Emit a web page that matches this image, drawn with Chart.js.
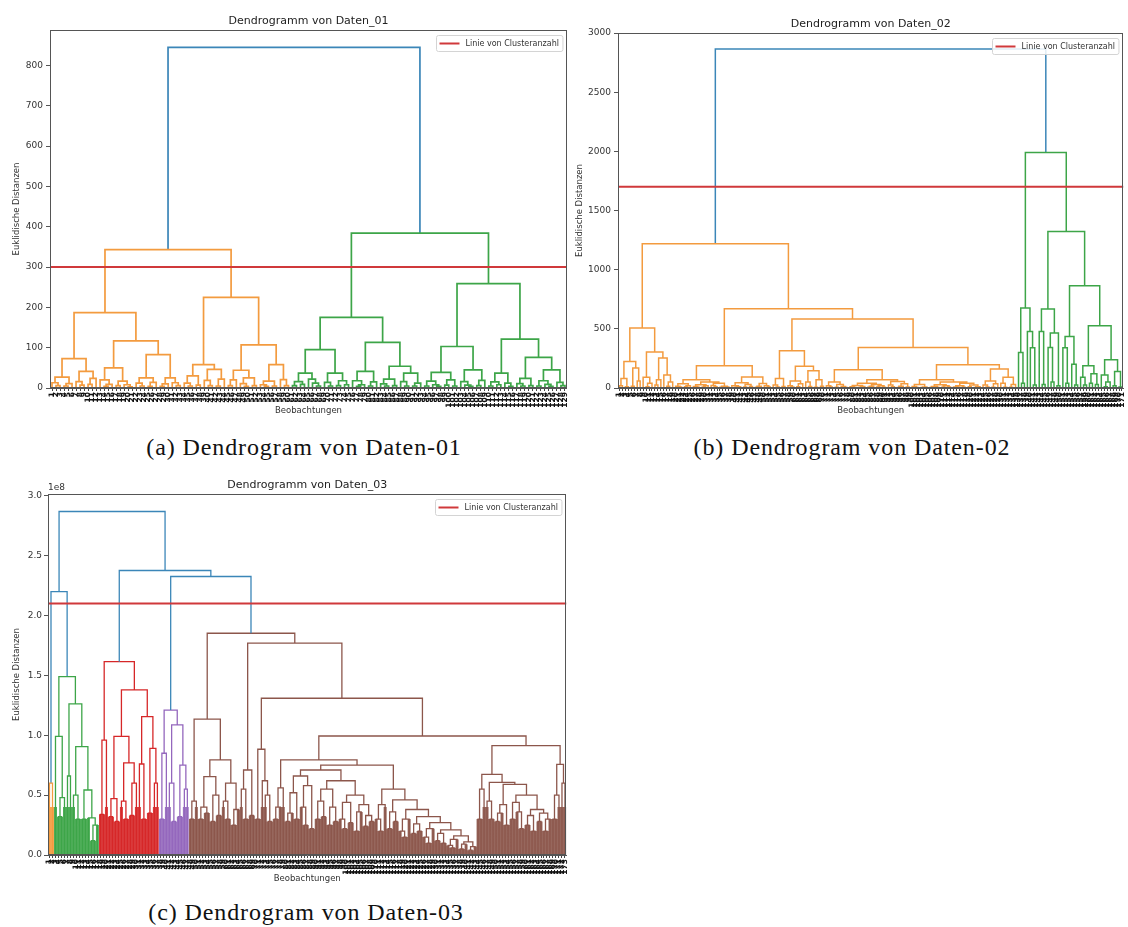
<!DOCTYPE html>
<html>
<head>
<meta charset="utf-8">
<script src="https://cdn.jsdelivr.net/npm/chart.js@4.4.1/dist/chart.umd.min.js"></script>
<style>
  body { margin: 0; background: #fff; width: 1128px; height: 927px; position: relative; overflow: hidden; }
  canvas { position: absolute; }
  .cap { position: absolute; font-family: "Liberation Serif", "DejaVu Serif", serif; font-size: 24px; line-height: 26px;
         letter-spacing: 0.9px; color: #111; white-space: nowrap; transform: translateX(-50%); }
</style>
</head>
<body>
<canvas id="chart1" width="575" height="425" style="left:0;top:0"></canvas>
<canvas id="chart2" width="557" height="425" style="left:575px;top:0"></canvas>
<canvas id="chart3" width="575" height="430" style="left:0;top:460px"></canvas>
<div class="cap" style="left:304px;top:434px">(a) Dendrogram von Daten-01</div>
<div class="cap" style="left:852px;top:434px">(b) Dendrogram von Daten-02</div>
<div class="cap" style="left:306px;top:899px">(c) Dendrogram von Daten-03</div>
<script>
// Baumschreibweise: [Höhe, links, rechts]; 0 = ein Blatt; Zahl > 0 = zwei Blätter, die auf dieser Höhe verschmelzen

// Daten_01
const d1Top = 845;
const d1Orange = [343,
  [187,
    [73, [27, [13, 0, 6], [11, 5, 0]], [41, [16, 0, 7], [24, 9, 0]]],
    [117, [50, [20, 0, [9, 4, 0]], [17, 6, [8, 0, 3]]],
          [83, [25, [12, 0, 5], [14, 4, 0]], [25, [10, 4, 0], [13, 0, 6]]]]],
  [225,
    [58, [30, [12, 0, 5], 7], [46, [19, 0, 6], [22, 5, 0]]],
    [107, [44, [20, 6, 0], [25, [11, 0, 4], 6]], [58, [17, [8, 0, 4], 5], [21, 0, 6]]]]];
const d1Green = [384,
  [175,
    [95, [37, [16, 6, [9, 0, 0]], [22, 0, [12, 0, 5]]], [37, [14, 0, 5], [18, 6, [8, 0, 0]]]],
    [113, [41, [18, 0, [8, 4, 0]], [15, 5, 0]],
          [54, [22, [10, 0, 5], 6], [37, [16, 0, 5], [12, 5, 0]]]]],
  [259,
    [103, [39, [17, 5, [8, 0, 4]], [20, [7, 0, 0], 5]], [45, [16, 0, [7, 0, 4]], [19, 6, 0]]],
    [121, [37, [15, 5, [8, 0, 0]], [12, 0, 4]],
          [76, [24, [11, 0, 5], 6], [45, [18, 5, [9, 0, 4]], [14, 0, 6]]]]]];
const d1Cut = 300;
const d1Ticks = [0, 100, 200, 300, 400, 500, 600, 700, 800];

// Daten_02
const d2Top = 2865;
const d2Orange = [1219,
  [507,
    [225, [80, 20, 10], [169, 15, 60]],
    [304, [90, 0, [40, 10, 0]], [253, [70, 25, 0], [110, 0, [50, 15, 0]]]]],
  [670,
    [188,
      [70, [35, [15, 0, 8], [20, 10, 0]],
           [50, [28, [12, 0, 6], [18, 8, 0]], [40, [22, 0, 10], [15, 6, [9, 0, 0]]]]],
      [93, [45, [20, 0, [10, 5, 0]], [30, 8, 12]], [38, [14, 6, 0], [18, 0, 9]]]],
    [583,
      [315, [80, [25, 0, 8], 12],
            [183, [60, [20, 0, 8], [35, 10, 0]], [145, [50, 0, 12], [70, 6, 15]]]],
      [343,
        [155, [50, [20, 0, 9], [30, 6, [12, 0, 5]]],
              [70, [40, [22, [10, 0, 5], [12, 4, 0]], [30, [14, 6, 0], [18, [9, 0, 0], 7]]],
                   [55, [25, 0, 10], [35, [15, 5, 0], 8]]]],
        [197, [70, [30, [12, 0, 5], [9, 4, 0]],
                   [50, [28, [12, 5, [6, 0, 0]], [18, [7, 0, 0], 8]],
                        [40, [20, [9, 0, 4], 6], [25, [10, 0, 0], [11, 5, 0]]]]],
              [160, [60, [25, 0, 8], [35, 6, 0]], [90, [40, 0, 6], [30, 7, 0]]]]]]]];
const d2Green = [1991,
  [676, [300, 0, 40], [478, 0, [340, 0, 25]]],
  [1323,
    [667, [478, 0, 30], [465, [343, 0, 50], 20]],
    [864,
      [436, [340, 0, 40], [200, 0, 25]],
      [526, [188, [90, 0, 25], [120, [40, 0, 0], 30]], [239, [110, 0, [50, 10, 0]], [140, 20, 8]]]]]];
const d2Cut = 1700;
const d2Ticks = [0, 500, 1000, 1500, 2000, 2500, 3000];

// Daten_03 (Höhen in Einheiten von 1e8)
const d3Links = [2.869, 2.2, 2.376, 2.326];
const d3Orange = 0.6;
const d3Green = [1.49,
  [0.99, 0, [0.48, 0.32, 0]],
  [1.262, 0.66,
    [0.905, [0.5, 0, 0.3], [0.543, 0.3, [0.31, 0, [0.25, 0.12, 0]]]]]];
const d3Red = [1.615,
  [0.96, 0.34, 0],
  [1.379,
    [0.99, [0.47, 0.32, 0.28], [0.77, [0.45, 0, 0.3], [0.6, 0.33, 0]]],
    [1.156, [0.76, 0, 0.3], [0.89, 0.35, [0.6, 0, 0]]]]];
const d3Purple = [1.21,
  [0.85, 0.3, 0],
  [1.086, [0.6, 0, 0.28], [0.75, 0.32, [0.55, 0, 0]]]];
// Treppe am rechten Ende des großen braunen Clusters
const d3Stairs = [0.55, [0.42, [0.3, 0, 0.2], 0],
  [0.46, [0.36, 0.22, [0.28, 0, 0]],
    [0.38, [0.3, [0.2, 0, 0.15], 0],
      [0.32, [0.26, 0.18, 0.2],
        [0.27, [0.22, [0.15, 0, 0.1], 0],
          [0.21, [0.18, 0.12, 0.1],
            [0.16, [0.13, [0.08, 0, 0.06], 0],
              [0.11, [0.09, 0.05, 0], [0.07, 0.04, 0]]]]]]]]];
const d3BrownMid = [0.71,
  [0.66, [0.52, [0.35, 0.28, 0], 0.3], [0.58, [0.4, 0, 0.25], 0.22]],
  [0.62, [0.55, [0.45, 0.3, [0.32, 0, 0]], [0.4, 0.25, 0.28]],
         [0.5, [0.44, [0.3, 0, 0.22], 0.27], [0.42, [0.36, 0.2, 0], [0.33, 0.24, [0.28, 0, 0]]]]]];
const d3BrownRight = [0.914,
  [0.674, [0.55, 0.3, 0],
    [0.607, [0.45, 0, 0.3],
      [0.59, [0.42, [0.35, 0.28, 0], 0.25],
        [0.5, [0.44, 0.3, [0.36, 0, 0.22]],
          [0.38, [0.33, 0.25, 0.2], [0.35, 0.28, [0.3, 0.2, 0]]]]]]],
  [0.757, [0.5, 0.3, 0], 0.6]];
const d3BrownLeft = [1.134,
  [0.45, 0.3, 0],
  [0.794,
    [0.654, [0.4, 0.3, [0.35, 0, 0]], [0.5, 0.28, [0.33, 0, 0]]],
    [0.6, [0.45, 0, 0.3], [0.38, 0.25, 0]]]];
const d3BrownLinks = [1.852, 1.769, 1.309, 0.994, 0.794, 0.75];
const d3Cut = 2.1;
const d3Ticks = [0, 0.5, 1, 1.5, 2, 2.5, 3];

const COLORS = {
  blue: '#3b86b8', orange: '#f39b3f', green: '#3da548', red: '#d62728',
  purple: '#9467bd', brown: '#8c564b', cut: '#d0393b'
};
Chart.defaults.font.family = '"DejaVu Sans", sans-serif';

function cluster(color, tree) { return {color: color, tree: tree}; }

// scipy-artige Anordnung: Blatt i bei x = 10*i + 5, Knoten in der Mitte seiner Kinder
function buildDendro(tree) {
  const segs = {};
  const leaves = [];
  function newLeaf(color) {
    const lf = {x: 10 * leaves.length + 5, h: 0, leaf: true, color: color, parent: 0};
    leaves.push(lf);
    return lf;
  }
  function U(color, l, h, r) {
    if (l.leaf) l.parent = h;
    if (r.leaf) r.parent = h;
    (segs[color] = segs[color] || []).push(
      {x: l.x, y: l.h}, {x: l.x, y: h}, {x: r.x, y: h}, {x: r.x, y: r.h}, {x: r.x, y: null});
  }
  function walk(node, color) {
    if (node && node.tree !== undefined) return walk(node.tree, node.color);
    if (typeof node === 'number') {
      const a = newLeaf(color);
      if (node === 0) return a;
      const b = newLeaf(color);
      U(color, a, node, b);
      return {x: (a.x + b.x) / 2, h: node};
    }
    const l = walk(node[1], color);
    const r = walk(node[2], color);
    U(color, l, node[0], r);
    return {x: (l.x + r.x) / 2, h: node[0]};
  }
  walk(tree, 'blue');
  return {segs: segs, leaves: leaves};
}

// dichte Blattmasse: jede Blattspalte bis zu ihrer ersten Verschmelzung, gekappt
function leafMass(leaves, cap) {
  const mass = {};
  leaves.forEach(lf => {
    const m = Math.min(lf.parent, cap);
    (mass[lf.color] = mass[lf.color] || []).push({x: lf.x - 5, y: m}, {x: lf.x + 5, y: m});
  });
  return mass;
}

const panelDecor = {
  id: 'panelDecor',
  afterDraw(chart, args, o) {
    const {ctx, chartArea: a} = chart;
    ctx.save();
    // Rahmen
    ctx.strokeStyle = '#555';
    ctx.lineWidth = 1;
    ctx.strokeRect(Math.round(a.left) + 0.5, Math.round(a.top) + 0.5,
      Math.round(a.right - a.left) - 1, Math.round(a.bottom - a.top) - 1);
    // Titel
    ctx.fillStyle = '#222';
    ctx.font = '11px "DejaVu Sans"';
    ctx.textAlign = 'center';
    ctx.textBaseline = 'middle';
    ctx.fillText(o.title, (a.left + a.right) / 2, a.top - 9);
    // Faktor der y-Achse
    if (o.offset) {
      ctx.font = '9px "DejaVu Sans"';
      ctx.textAlign = 'left';
      ctx.textBaseline = 'bottom';
      ctx.fillStyle = '#333';
      ctx.fillText(o.offset, a.left, a.top - 2);
    }
    // Legende oben rechts
    const ds = chart.data.datasets.find(d => d.label);
    ctx.font = '8px "DejaVu Sans"';
    const tw = ctx.measureText(ds.label).width;
    const bw = 3 + 20 + 6 + tw + 4, bh = 16;
    const bx = Math.round(a.right - 5 - bw) + 0.5, by = Math.round(a.top + 5) + 0.5;
    ctx.beginPath();
    ctx.roundRect(bx, by, bw, bh, 2);
    ctx.fillStyle = 'rgba(255,255,255,0.85)';
    ctx.fill();
    ctx.strokeStyle = '#d4d4d4';
    ctx.stroke();
    ctx.beginPath();
    ctx.moveTo(bx + 3, by + bh / 2);
    ctx.lineTo(bx + 23, by + bh / 2);
    ctx.strokeStyle = ds.borderColor;
    ctx.lineWidth = 2;
    ctx.stroke();
    ctx.fillStyle = '#333';
    ctx.textAlign = 'left';
    ctx.textBaseline = 'middle';
    ctx.fillText(ds.label, bx + 29, by + bh / 2 + 0.5);
    ctx.restore();
  }
};

function drawPanel(id, p) {
  const built = buildDendro(p.tree);
  const xMax = built.leaves.length * 10;
  const datasets = [];
  Object.keys(built.segs).forEach(c => {
    datasets.push({
      data: built.segs[c], borderColor: COLORS[c], borderWidth: p.lw,
      pointRadius: 0, spanGaps: false, fill: false, order: 2
    });
  });
  if (p.massCap) {
    const mass = leafMass(built.leaves, p.massCap);
    Object.keys(mass).forEach(c => {
      datasets.push({
        data: mass[c], borderWidth: 0, borderColor: 'transparent',
        backgroundColor: COLORS[c] + 'e6', fill: 'origin', pointRadius: 0, order: 3
      });
    });
  }
  datasets.push({
    label: 'Linie von Clusteranzahl',
    data: [{x: 0, y: p.cut}, {x: xMax, y: p.cut}],
    borderColor: COLORS.cut, borderWidth: 2, pointRadius: 0, fill: false, order: 0
  });
  const leafTicks = built.leaves.map(lf => ({value: lf.x}));

  new Chart(document.getElementById(id), {
    type: 'line',
    data: {datasets: datasets},
    plugins: [panelDecor],
    options: {
      responsive: false,
      animation: false,
      events: [],
      layout: {padding: {top: p.top, right: p.right, left: 0, bottom: 0}},
      plugins: {
        legend: {display: false},
        tooltip: {enabled: false},
        panelDecor: {title: p.title, offset: p.offset}
      },
      scales: {
        x: {
          type: 'linear', min: 0, max: xMax,
          afterFit: s => { s.height = p.xH; },
          afterBuildTicks: s => { s.ticks = leafTicks; },
          ticks: {
            autoSkip: false, minRotation: 90, maxRotation: 90, padding: 1,
            font: {size: 7.5, weight: 'bold'}, color: '#111',
            callback: v => String((v - 5) / 10 + 1)
          },
          grid: {drawOnChartArea: false, drawTicks: true, tickLength: 3, color: '#444'},
          border: {display: true, color: '#555'},
          title: {display: true, text: 'Beobachtungen', color: '#333', font: {size: 8.5},
                  padding: {top: 0, bottom: p.xTitlePad}}
        },
        y: {
          type: 'linear', min: 0, max: p.yMax,
          afterFit: s => { s.width = p.yW; },
          afterBuildTicks: s => { s.ticks = p.yTicks.map(v => ({value: v})); },
          ticks: {font: {size: 9}, color: '#333', padding: p.tickPad, callback: p.fmt},
          grid: {drawOnChartArea: false, drawTicks: true, tickLength: 4, color: '#555'},
          border: {display: true, color: '#555'},
          title: {display: true, text: 'Euklidische Distanzen', color: '#333', font: {size: 8.5},
                  padding: {top: p.yTitlePad, bottom: 0}}
        }
      }
    }
  });
}

drawPanel('chart1', {
  tree: [d1Top, cluster('orange', d1Orange), cluster('green', d1Green)],
  cut: d1Cut, yTicks: d1Ticks, yMax: 888, fmt: v => String(v),
  title: 'Dendrogramm von Daten_01', lw: 1.7,
  top: 30, right: 8, yW: 50, xH: 37, xTitlePad: 9, yTitlePad: 12, tickPad: 3
});

drawPanel('chart2', {
  tree: [d2Top, cluster('orange', d2Orange), cluster('green', d2Green)],
  cut: d2Cut, yTicks: d2Ticks, yMax: 3000, fmt: v => String(v),
  title: 'Dendrogramm von Daten_02', lw: 1.5,
  top: 33, right: 5, yW: 43, xH: 37, xTitlePad: 9, yTitlePad: 0, tickPad: 3
});

// brauner Cluster aus seinen Teilstücken zusammengesetzt
const bl = d3BrownLinks;
const d3Brown = [bl[0], d3BrownLeft,
  [bl[1], [0.71, [0.55, 0, 0.3], 0.33],
    [bl[2], [0.883, 0.3, [0.62, 0, [0.5, 0, 0.28]]],
      [bl[3], [bl[4], [0.56, [0.4, 0.3, 0], 0], [bl[5], d3BrownMid, d3Stairs]],
        d3BrownRight]]]];

drawPanel('chart3', {
  tree: [d3Links[0],
    [d3Links[1], cluster('orange', d3Orange), cluster('green', d3Green)],
    [d3Links[2], cluster('red', d3Red), [d3Links[3], cluster('purple', d3Purple), cluster('brown', d3Brown)]]],
  cut: d3Cut, yTicks: d3Ticks, yMax: 3.015, fmt: v => v.toFixed(1), offset: '1e8',
  title: 'Dendrogramm von Daten_03', massCap: 0.4, lw: 1.3,
  top: 34, right: 8, yW: 48, xH: 35, xTitlePad: 6.5, yTitlePad: 12, tickPad: 2
});
</script>
</body>
</html>
